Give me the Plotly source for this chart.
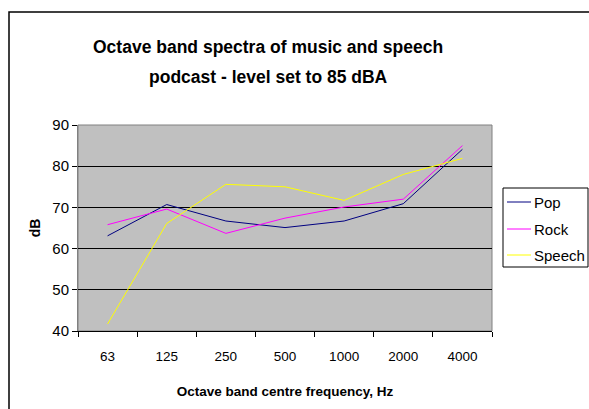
import plotly.graph_objects as go

freqs = ["63", "125", "250", "500", "1000", "2000", "4000"]
pop = [63.1, 70.7, 66.7, 65.1, 66.7, 70.9, 84.1]
rock = [65.8, 69.6, 63.7, 67.4, 70.1, 72.0, 85.0]
speech = [41.7, 66.1, 75.6, 75.0, 71.7, 78.0, 81.9]

series_names = ["Pop", "Rock", "Speech"]
series_colors = ["#000080", "#FF00FF", "#FFFF00"]
series_values = [pop, rock, speech]

W, H = 589, 409
L, R, T, B = 78, 97, 125, 78
pw, ph = W - L - R, H - T - B

def px_x(p):
    return (p - L) / pw

def px_y(p):
    return (H - B - p) / ph

font = "Liberation Sans"

fig = go.Figure()
for name, color, vals in zip(series_names, series_colors, series_values):
    fig.add_trace(go.Scatter(x=freqs, y=vals, name=name, mode="lines",
                             line=dict(color=color, width=1),
                             showlegend=False))

shapes = [
    dict(type="rect", xref="paper", yref="paper", x0=0, x1=1, y0=0, y1=1,
         line=dict(color="#808080", width=1), layer="below"),
    dict(type="rect", xref="paper", yref="paper",
         x0=px_x(9), x1=px_x(600), y0=px_y(420), y1=px_y(12),
         line=dict(color="black", width=1.5)),
    # legend box
    dict(type="rect", xref="paper", yref="paper",
         x0=px_x(503), x1=px_x(588), y0=px_y(267), y1=px_y(188),
         line=dict(color="black", width=1), fillcolor="white"),
]
annotations = [
    dict(text="<b>Octave band spectra of music and speech</b>",
         xref="paper", yref="paper", x=px_x(268), y=px_y(47),
         xanchor="center", yanchor="middle", showarrow=False,
         font=dict(family=font, size=17.5, color="black")),
    dict(text="<b>podcast - level set to 85 dBA</b>",
         xref="paper", yref="paper", x=px_x(268), y=px_y(77),
         xanchor="center", yanchor="middle", showarrow=False,
         font=dict(family=font, size=17.5, color="black")),
]
legend_rows = [202, 229, 255]
for name, color, yy in zip(series_names, series_colors, legend_rows):
    shapes.append(dict(type="line", xref="paper", yref="paper",
                       x0=px_x(507), x1=px_x(531), y0=px_y(yy), y1=px_y(yy),
                       line=dict(color=color, width=1)))
    annotations.append(dict(text=name, xref="paper", yref="paper",
                            x=px_x(532), y=px_y(yy), xanchor="left",
                            yanchor="middle", showarrow=False,
                            font=dict(family=font, size=15, color="black")))

fig.update_layout(
    width=W, height=H,
    margin=dict(l=L, r=R, t=T, b=B, autoexpand=False),
    paper_bgcolor="white",
    plot_bgcolor="#C0C0C0",
    font=dict(family=font, size=13, color="black"),
    showlegend=False,
    xaxis=dict(type="category", tickson="boundaries", ticks="outside",
               ticklen=5, tickcolor="black", showgrid=False,
               showline=True, linecolor="black", linewidth=1,
               tickfont=dict(size=13.5), ticklabelstandoff=13,
               automargin=False,
               title=dict(text="<b>Octave band centre frequency, Hz</b>",
                          font=dict(size=13.5), standoff=23),
               range=[-0.5, 6.5]),
    yaxis=dict(range=[40, 90], dtick=10, ticks="outside", ticklen=5,
               tickcolor="black", showgrid=True, gridcolor="black",
               gridwidth=1, showline=True, linecolor="#808080", linewidth=1,
               zeroline=False, tickfont=dict(size=15), automargin=False,
               title=dict(text="<b>dB</b>", font=dict(size=14), standoff=8)),
    shapes=shapes,
    annotations=annotations,
)

fig.write_html("out.html")
